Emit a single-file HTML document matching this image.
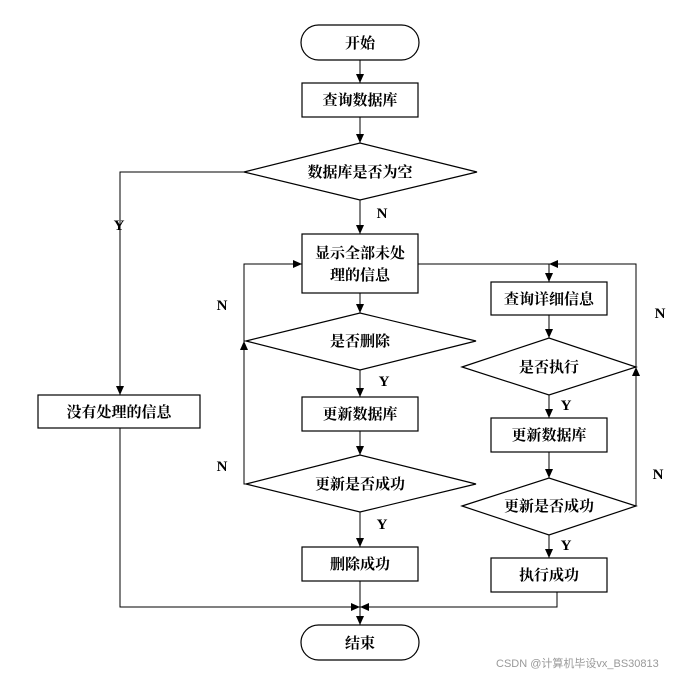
<!DOCTYPE html>
<html><head><meta charset="utf-8"><style>
body{margin:0;background:#fff}
text{font-family:"Liberation Serif","Noto Serif CJK SC",serif;font-weight:bold;font-size:15px;fill:#000}
</style></head><body>
<svg width="682" height="677" viewBox="0 0 682 677" xmlns="http://www.w3.org/2000/svg">
<defs><marker id="a" markerWidth="10" markerHeight="10" refX="9" refY="5" orient="auto" markerUnits="userSpaceOnUse"><path d="M0,1 L9,5 L0,9z" fill="#000"/></marker></defs>
<g fill="none" stroke="#000" stroke-width="1.2">
<rect x="301" y="25" width="118" height="35" rx="17.5"/>
<rect x="302" y="83" width="116" height="34"/>
<polygon points="244,172 360,143 477,172 360,200"/>
<rect x="302" y="234" width="116" height="59"/>
<polygon points="246,341 360,313 476,341 360,370"/>
<rect x="302" y="397" width="116" height="34"/>
<polygon points="246,484 360,455 476,484 360,512"/>
<rect x="302" y="547" width="116" height="34"/>
<rect x="301" y="625" width="118" height="35" rx="17.5"/>
<rect x="38" y="395" width="162" height="33"/>
<rect x="491" y="282" width="116" height="33"/>
<polygon points="462,367 549,338 636,367 549,395"/>
<rect x="491" y="418" width="116" height="34"/>
<polygon points="462,506 549,478 636,506 549,535"/>
<rect x="491" y="558" width="116" height="34"/>
</g>
<g fill="none" stroke="#000" stroke-width="1" marker-end="url(#a)">
<line x1="360" y1="60" x2="360" y2="83"/>
<line x1="360" y1="117" x2="360" y2="143"/>
<line x1="360" y1="200" x2="360" y2="234"/>
<line x1="360" y1="293" x2="360" y2="313"/>
<line x1="360" y1="370" x2="360" y2="397"/>
<line x1="360" y1="431" x2="360" y2="455"/>
<line x1="360" y1="512" x2="360" y2="547"/>
<line x1="360" y1="581" x2="360" y2="625"/>
<polyline points="244,172 120,172 120,395"/>
<polyline points="120,428 120,607 360,607"/>
<polyline points="557,592 557,607 360,607"/>
<polyline points="246,341 244,341 244,264 302,264"/>
<polyline points="246,484 244,484 244,341"/>
<polyline points="418,264 549,264 549,282"/>
<polyline points="636,367 636,264 549,264"/>
<polyline points="636,506 636,367"/>
<line x1="549" y1="315" x2="549" y2="338"/>
<line x1="549" y1="395" x2="549" y2="418"/>
<line x1="549" y1="452" x2="549" y2="478"/>
<line x1="549" y1="535" x2="549" y2="558"/>
</g>
<g text-anchor="middle">
<text x="360" y="48">开始</text>
<text x="360" y="105">查询数据库</text>
<text x="360" y="177">数据库是否为空</text>
<text x="360" y="258">显示全部未处</text>
<text x="360" y="280">理的信息</text>
<text x="360" y="346">是否删除</text>
<text x="360" y="419">更新数据库</text>
<text x="360" y="489">更新是否成功</text>
<text x="360" y="569">删除成功</text>
<text x="360" y="648">结束</text>
<text x="119" y="417">没有处理的信息</text>
<text x="549" y="304">查询详细信息</text>
<text x="549" y="372">是否执行</text>
<text x="549" y="440">更新数据库</text>
<text x="549" y="511">更新是否成功</text>
<text x="549" y="580">执行成功</text>
<text x="382" y="218">N</text>
<text x="119" y="230">Y</text>
<text x="222" y="310">N</text>
<text x="222" y="471">N</text>
<text x="384" y="386">Y</text>
<text x="382" y="529">Y</text>
<text x="660" y="318">N</text>
<text x="658" y="479">N</text>
<text x="566" y="410">Y</text>
<text x="566" y="550">Y</text>
</g>
<text x="496" y="667" style="font-family:'Liberation Sans','Noto Sans CJK SC',sans-serif;font-weight:normal;font-size:11px;fill:#999">CSDN @计算机毕设vx_BS30813</text>
</svg>
</body></html>
